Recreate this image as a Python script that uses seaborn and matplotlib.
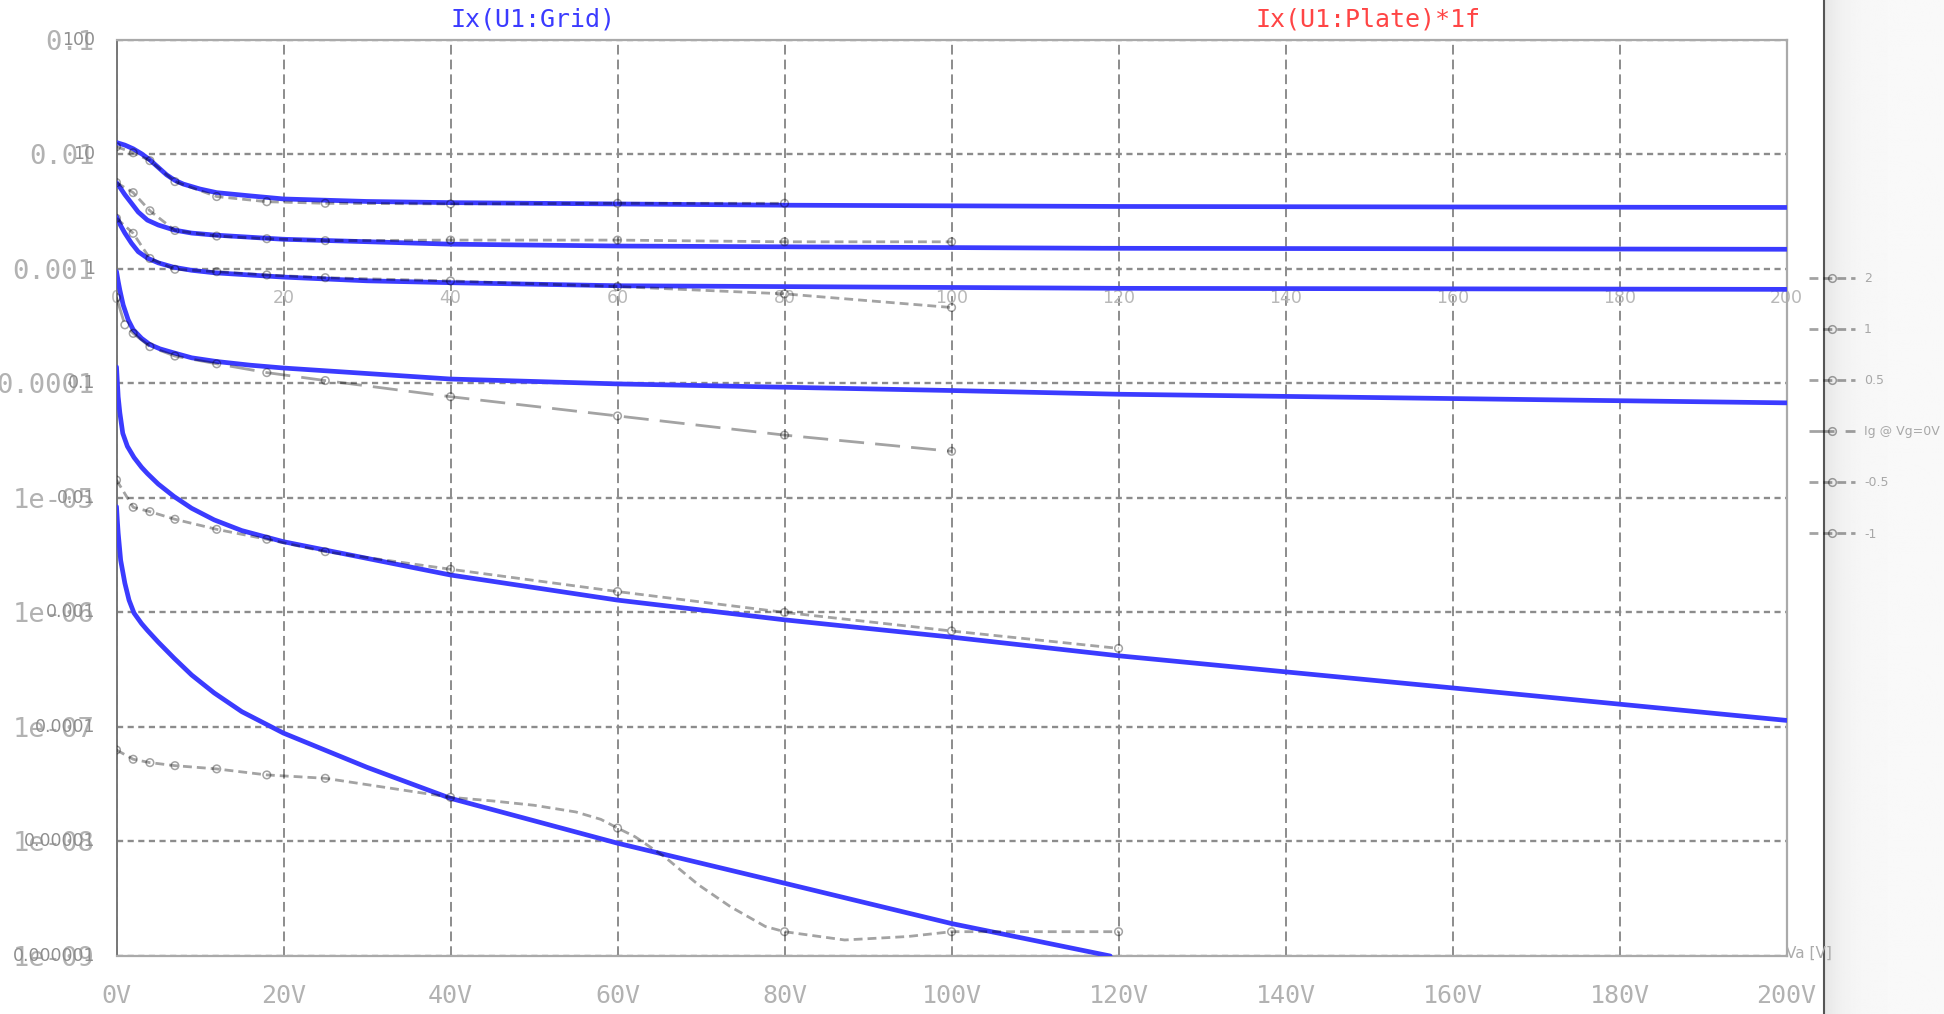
import numpy as np
import pandas as pd
import matplotlib
matplotlib.use("Agg")
import matplotlib.pyplot as plt
import seaborn as sns
from matplotlib.lines import Line2D

# ---------------- data (Va in volts, grid current in amps) ----------------
legend_labels = ["2", "1", "0.5", "Ig @ Vg=0V", "-0.5", "-1"]

# simulated curves  Ix(U1:Grid)
sim1_va = [0, 1, 2, 3, 4, 5, 6, 7, 8, 10, 12, 16, 20, 30, 40, 60, 80, 120, 200]
sim1_ig = [1.265e-2, 1.202e-2, 1.116e-2, 1.010e-2, 8.92e-3, 7.68e-3, 6.61e-3, 5.91e-3,
           5.49e-3, 4.97e-3, 4.62e-3, 4.33e-3, 4.07e-3, 3.87e-3, 3.78e-3, 3.68e-3,
           3.59e-3, 3.50e-3, 3.43e-3]
sim2_va = [0, 0.5, 1, 1.8, 2.6, 3.7, 5, 6.9, 9, 11.7, 20, 40, 60, 118, 200]
sim2_ig = [5.65e-3, 5.03e-3, 4.44e-3, 3.73e-3, 3.13e-3, 2.66e-3, 2.41e-3, 2.18e-3,
           2.05e-3, 1.97e-3, 1.81e-3, 1.64e-3, 1.58e-3, 1.51e-3, 1.48e-3]
sim3_va = [0, 0.5, 1.0, 1.8, 2.6, 3.7, 5, 6.8, 9, 11.7, 20, 30, 40, 60, 120, 200]
sim3_ig = [2.85e-3, 2.38e-3, 2.05e-3, 1.67e-3, 1.41e-3, 1.24e-3, 1.127e-3, 1.033e-3,
           9.70e-4, 9.23e-4, 8.46e-4, 7.85e-4, 7.56e-4, 7.11e-4, 6.75e-4, 6.61e-4]
sim4_va = [0, 0.2, 0.4, 0.8, 1.4, 2, 3, 4, 5.2, 6.8, 9, 12, 16, 20, 40, 60, 100, 120,
           160, 200]
sim4_ig = [9.47e-4, 7.76e-4, 6.52e-4, 4.83e-4, 3.58e-4, 2.94e-4, 2.47e-4, 2.18e-4,
           2.00e-4, 1.85e-4, 1.67e-4, 1.55e-4, 1.44e-4, 1.36e-4, 1.09e-4, 9.88e-5,
           8.65e-5, 8.03e-5, 7.36e-5, 6.75e-5]
sim5_va = [0, 0.1, 0.2, 0.4, 0.75, 1.3, 2.1, 3, 3.7, 5, 6.9, 9, 11.7, 15, 20, 40, 60,
           80, 100, 120, 160, 200]
sim5_ig = [1.39e-4, 1.03e-4, 7.64e-5, 5.53e-5, 3.66e-5, 2.82e-5, 2.25e-5, 1.85e-5,
           1.63e-5, 1.32e-5, 1.026e-5, 8.11e-6, 6.42e-6, 5.18e-6, 4.14e-6, 2.12e-6,
           1.28e-6, 8.61e-7, 6.08e-7, 4.18e-7, 2.19e-7, 1.14e-7]
sim6_va = [0, 0.1, 0.2, 0.5, 1.0, 1.5, 2.1, 3, 3.7, 5, 6.9, 9, 11.7, 15, 20, 30, 40,
           60, 80, 100, 119]
sim6_ig = [8.38e-6, 6.32e-6, 4.93e-6, 2.85e-6, 1.80e-6, 1.28e-6, 9.86e-7, 7.99e-7,
           6.97e-7, 5.50e-7, 3.98e-7, 2.84e-7, 1.98e-7, 1.36e-7, 8.83e-8, 4.44e-8,
           2.38e-8, 9.66e-9, 4.32e-9, 1.92e-9, 1.00e-9]

# reference (datasheet) curves, marker points
ref1_va = [0, 2, 4, 7, 12, 18, 25, 40, 60, 80]
ref1_ig = [1.164e-2, 1.030e-2, 8.79e-3, 5.77e-3, 4.27e-3, 3.85e-3, 3.73e-3, 3.68e-3,
           3.73e-3, 3.73e-3]
ref2_va = [0, 2, 4, 7, 12, 18, 25, 40, 60, 80, 100]
ref2_ig = [5.65e-3, 4.62e-3, 3.21e-3, 2.16e-3, 1.93e-3, 1.83e-3, 1.76e-3, 1.78e-3,
           1.78e-3, 1.72e-3, 1.72e-3]
ref3_va = [0, 2, 4, 7, 12, 18, 25, 40, 60, 80, 100]
ref3_ig = [2.76e-3, 2.04e-3, 1.23e-3, 9.90e-4, 9.44e-4, 8.83e-4, 8.36e-4, 7.83e-4,
           6.99e-4, 6.04e-4, 4.59e-4]
ref4_va = [0, 1, 2, 4, 7, 12, 18, 25, 40, 60, 80, 100]
ref4_ig = [5.61e-4, 3.24e-4, 2.73e-4, 2.09e-4, 1.73e-4, 1.48e-4, 1.24e-4, 1.057e-4,
           7.64e-5, 5.19e-5, 3.53e-5, 2.55e-5]
ref5_va = [0, 2, 4, 7, 12, 18, 25, 40, 60, 80, 100, 120]
ref5_ig = [1.43e-5, 8.27e-6, 7.58e-6, 6.50e-6, 5.31e-6, 4.35e-6, 3.39e-6, 2.38e-6,
           1.52e-6, 1.0e-6, 6.88e-7, 4.85e-7]
ref6_va = [0, 2, 4, 7, 12, 18, 25, 40, 60, 80, 100, 120]
ref6_ig = [6.29e-8, 5.22e-8, 4.88e-8, 4.59e-8, 4.30e-8, 3.81e-8, 3.56e-8, 2.43e-8,
           1.31e-8, 1.63e-9, 1.63e-9, 1.63e-9]
# path of the -1 curve
ref6_path_va = [0, 2, 4, 7, 12, 18, 25, 40, 45, 50, 55, 58, 60, 62.1, 65.6, 69.7, 73.5,
                77.7, 80, 87.2, 94.8, 100, 120]
ref6_path_ig = [6.29e-8, 5.22e-8, 4.88e-8, 4.59e-8, 4.30e-8, 3.81e-8, 3.56e-8, 2.43e-8,
                2.26e-8, 2.07e-8, 1.81e-8, 1.56e-8, 1.31e-8, 1.10e-8, 7.38e-9, 4.18e-9,
                2.70e-9, 1.81e-9, 1.63e-9, 1.38e-9, 1.48e-9, 1.63e-9, 1.63e-9]

y_major = [1e-1, 1e-2, 1e-3, 1e-4, 1e-5, 1e-6, 1e-7, 1e-8, 1e-9]
y_labels = ["0.1", "0.01", "0.001", "0.0001", "1e-05", "1e-06", "1e-07", "1e-08", "1e-09"]
y_labels_overlay = ["100", "10", "1", "0.1", "0.01", "0.001", "0.0001", "0.00001", "0.000001"]
x_major = [0, 20, 40, 60, 80, 100, 120, 140, 160, 180, 200]
x_labels = ["0V", "20V", "40V", "60V", "80V", "100V", "120V", "140V", "160V", "180V", "200V"]
x_labels_overlay = ["0", "20", "40", "60", "80", "100", "120", "140", "160", "180", "200"]

# ---------------- styling ----------------
sns.set_style("white")
plt.rcParams['font.family'] = ['DejaVu Sans']

BLUE = "#3b3bff"
W, H = 1944, 1014
fig = plt.figure(figsize=(W / 100, H / 100), dpi=100)
fig.patch.set_facecolor("white")

left, right, top, bottom = 116.5, 1786.6, 39.7, 956.0
ax = fig.add_axes([left / W, 1 - bottom / H, (right - left) / W, (bottom - top) / H])
ax.set_facecolor("white")

sim_sets = [(sim1_va, sim1_ig), (sim2_va, sim2_ig), (sim3_va, sim3_ig),
            (sim4_va, sim4_ig), (sim5_va, sim5_ig), (sim6_va, sim6_ig)]
for va, ig in sim_sets:
    sns.lineplot(x=va, y=ig, ax=ax, color=BLUE, lw=3.4, legend=False,
                 estimator=None, zorder=3)

short_dash = (0, (3.2, 1.8))
long_dash = (0, (9, 4))
ref_sets = [
    (ref1_va, ref1_ig, ref1_va, ref1_ig, short_dash),
    (ref2_va, ref2_ig, ref2_va, ref2_ig, short_dash),
    (ref3_va, ref3_ig, ref3_va, ref3_ig, short_dash),
    (ref4_va, ref4_ig, ref4_va, ref4_ig, long_dash),
    (ref5_va, ref5_ig, ref5_va, ref5_ig, short_dash),
    (ref6_path_va, ref6_path_ig, ref6_va, ref6_ig, short_dash),
]
REF_RGBA = (0, 0, 0, 0.36)   # dark translucent -> grey on white, navy on blue
handles = []
for pva, pig, mva, mig, ls in ref_sets:
    sns.lineplot(x=pva, y=pig, ax=ax, color="black", alpha=0.36, lw=2.0,
                 linestyle=ls, legend=False, estimator=None, zorder=4)
    sns.scatterplot(x=mva, y=mig, ax=ax, marker="o", s=30, facecolors="none",
                    edgecolors=[REF_RGBA], linewidths=1.1, legend=False, zorder=5)
    handles.append(Line2D([], [], color="black", alpha=0.36, lw=2.0, linestyle=ls,
                          marker="o", markersize=5.5, markerfacecolor="none",
                          markeredgewidth=1.1))

ax.set_yscale("log")
ax.set_xlim(0, 200)
ax.set_ylim(1e-9, 1e-1)

# grid
ax.set_axisbelow(True)
ax.xaxis.grid(True, which="major", color="#8c8c8c", lw=1.4, linestyle=(0, (5, 2.6)))
ax.yaxis.grid(True, which="major", color="#8c8c8c", lw=1.7, linestyle=(0, (2.6, 1.9)))
ax.yaxis.grid(False, which="minor")

# ticks
mono = "DejaVu Sans Mono"
ax.set_xticks(x_major)
ax.set_xticklabels(x_labels, family=mono)
ax.set_yticks(y_major)
ax.set_yticklabels(y_labels, family=mono)
ax.yaxis.set_minor_locator(matplotlib.ticker.LogLocator(base=10, subs=np.arange(2, 10)))
ax.yaxis.set_minor_formatter(matplotlib.ticker.NullFormatter())
ax.tick_params(axis="x", which="major", direction="out", length=14, width=1.6,
               color="#aaaaaa", labelsize=18, labelcolor="#b2b2b2", pad=6)
ax.tick_params(axis="y", which="major", direction="out", length=14.4, width=1.6,
               color="#9a9a9a", labelsize=19.5, labelcolor="#b2b2b2", pad=1.5)
ax.tick_params(axis="y", which="minor", direction="out", length=7.2, width=1.6,
               color="#9a9a9a")
ax.tick_params(top=False, right=False)

for side in ["top", "right", "bottom"]:
    ax.spines[side].set_color("#aaaaaa")
    ax.spines[side].set_linewidth(1.6)
ax.spines["left"].set_color("#777777")
ax.spines["left"].set_linewidth(1.4)

# overlaid second-scale labels (mA scale of the datasheet picture)
for val, lab in zip(y_major, y_labels_overlay):
    ax.annotate(lab, xy=(0, val), xycoords=("axes fraction", "data"),
                xytext=(-15.5, 0), textcoords="offset points", ha="right", va="center",
                fontsize=12.5, color="#8e8e8e", zorder=6)
for val, lab in zip(x_major, x_labels_overlay):
    ax.annotate(lab, xy=(val, 1e-3), xycoords="data", xytext=(0, -21),
                textcoords="offset points", ha="center", va="center",
                fontsize=12.5, color="#b8b8b8", zorder=2)

# trace titles
fig.text(533 / W, 1 - 20 / H, "Ix(U1:Grid)", color=BLUE, fontsize=18, family=mono,
         ha="center", va="center")
fig.text(1368 / W, 1 - 20 / H, "Ix(U1:Plate)*1f", color="#ff4545", fontsize=18,
         family=mono, ha="center", va="center")
fig.text(1786 / W, 1 - 953 / H, "Va [V]", color="#ababab", fontsize=11,
         ha="left", va="center")

# right side panel with soft shading
pax = fig.add_axes([1824 / W, 0, (W - 1824) / W, 1])
cols = np.arange(120)
shade = 0.975 - 0.075 * np.exp(-cols / 18.0)
pax.imshow(np.tile(shade, (10, 1)), cmap="gray", vmin=0, vmax=1, aspect="auto",
           extent=(0, 1, 0, 1))
pax.set_axis_off()
fig.add_artist(Line2D([1824 / W, 1824 / W], [0, 1], color="#555555", lw=1.5))

leg = fig.legend(handles, legend_labels, loc="upper left",
                 bbox_to_anchor=(1809 / W, 1 - 272 / H), frameon=False,
                 fontsize=9, labelcolor="#a8a8a8", handlelength=3.7,
                 handletextpad=0.7, labelspacing=3.05, borderpad=0,
                 borderaxespad=0, numpoints=1)
leg.set_zorder(20)

fig.savefig("out.png", dpi=100, facecolor="white")
